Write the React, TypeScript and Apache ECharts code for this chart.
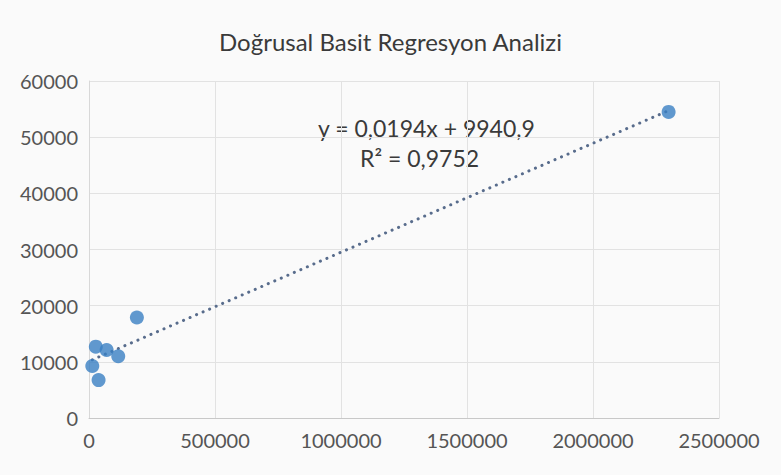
import React, { useEffect, useRef } from "react";
import * as echarts from "echarts";

const TITLE = "Doğrusal Basit Regresyon Analizi";
const xValues = [13000, 27000, 38000, 70000, 116000, 190000, 2300000];
const yValues = [9250, 12700, 6750, 12100, 11000, 17900, 54500];
const EQUATION_LABEL = "y = 0,0194x + 9940,9";
const R2_LABEL = "R² = 0,9752";
const X_TICKS = [0, 500000, 1000000, 1500000, 2000000, 2500000];
const Y_TICKS = [0, 10000, 20000, 30000, 40000, 50000, 60000];

function linearFit(xs: number[], ys: number[]) {
  const n = xs.length;
  const mx = xs.reduce((a, b) => a + b, 0) / n;
  const my = ys.reduce((a, b) => a + b, 0) / n;
  let sxy = 0;
  let sxx = 0;
  for (let i = 0; i < n; i++) {
    sxy += (xs[i] - mx) * (ys[i] - my);
    sxx += (xs[i] - mx) * (xs[i] - mx);
  }
  const slope = sxy / sxx;
  return { slope, intercept: my - slope * mx };
}

export default function App() {
  const ref = useRef<HTMLDivElement>(null);
  useEffect(() => {
    if (!ref.current) return;
    const chart = echarts.init(ref.current, undefined, { renderer: "svg" });
    const points = xValues.map((x, i) => [x, yValues[i]]);
    const fit = linearFit(xValues, yValues);
    const minX = Math.min(...xValues);
    const maxX = Math.max(...xValues);
    const trend = [
      [minX, fit.intercept + fit.slope * minX],
      [maxX, fit.intercept + fit.slope * maxX],
    ];
    const font = "Lato, 'Open Sans', sans-serif";
    chart.setOption({
      animation: false,
      backgroundColor: "#fafafa",
      title: {
        text: TITLE,
        left: "center",
        top: 24,
        textStyle: { fontFamily: font, fontSize: 24, fontWeight: "normal", color: "#3a3a3a" },
      },
      grid: { left: 89, right: 62, top: 81, bottom: 57 },
      xAxis: {
        type: "value",
        min: X_TICKS[0],
        max: X_TICKS[X_TICKS.length - 1],
        interval: X_TICKS[1] - X_TICKS[0],
        axisLine: { show: true, lineStyle: { color: "#c8c8c8", width: 1 } },
        axisTick: { show: false },
        splitLine: { show: true, lineStyle: { color: "#e2e2e2", width: 1 } },
        axisLabel: {
          formatter: (v: number) => String(v),
          fontFamily: font,
          fontSize: 20,
          color: "#555555",
          margin: 12,
        },
      },
      yAxis: {
        type: "value",
        min: Y_TICKS[0],
        max: Y_TICKS[Y_TICKS.length - 1],
        interval: Y_TICKS[1] - Y_TICKS[0],
        axisLine: { show: true, lineStyle: { color: "#d8d8d8", width: 1 } },
        axisTick: { show: false },
        splitLine: { show: true, lineStyle: { color: "#e2e2e2", width: 1 } },
        axisLabel: {
          formatter: (v: number) => String(v),
          fontFamily: font,
          fontSize: 20,
          color: "#555555",
          margin: 11,
        },
      },
      series: [
        {
          type: "line",
          data: trend,
          showSymbol: false,
          symbol: "none",
          lineStyle: { color: "#586c8c", width: 3, type: [0.1, 7], cap: "round" },
          z: 2,
        },
        {
          type: "scatter",
          data: points,
          symbolSize: 14,
          itemStyle: { color: "#3a80c3" },
          z: 3,
        },
      ],
      graphic: [
        {
          type: "text",
          left: 318,
          top: 116,
          style: { text: EQUATION_LABEL, fontFamily: font, fontSize: 23, fill: "#3a3a3a" },
        },
        {
          type: "text",
          left: 360,
          top: 146,
          style: { text: R2_LABEL, fontFamily: font, fontSize: 23, fill: "#3a3a3a" },
        },
      ],
    });
    return () => chart.dispose();
  }, []);
  return (
    <div
      ref={ref}
      style={{ position: "fixed", left: 0, top: 0, width: 781, height: 475 }}
    />
  );
}
